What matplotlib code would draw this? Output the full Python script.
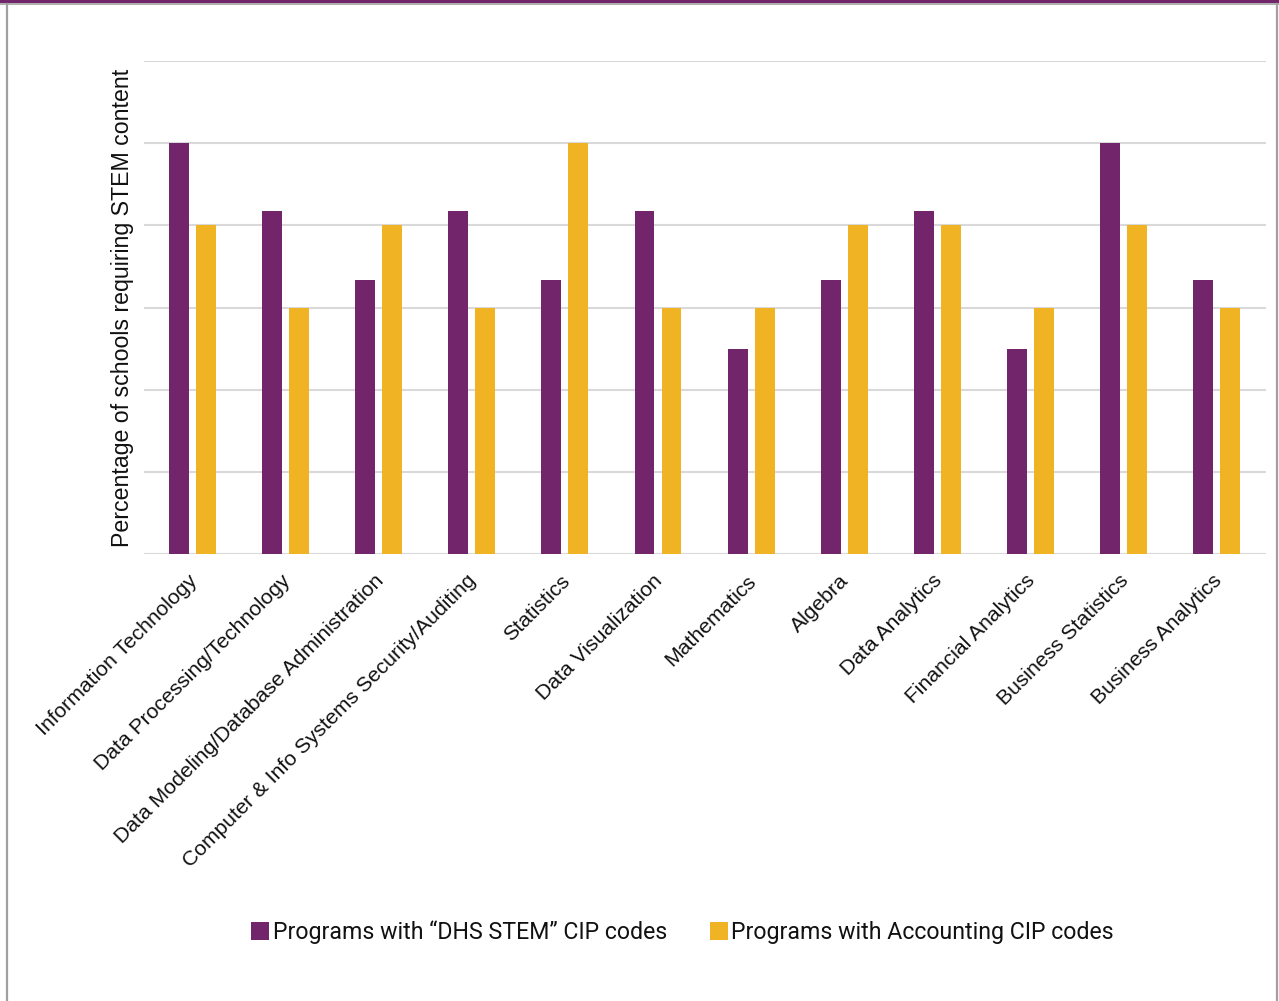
import matplotlib
matplotlib.use("Agg")
import matplotlib.pyplot as plt
from matplotlib.patches import Rectangle
from matplotlib.lines import Line2D
from matplotlib.transforms import ScaledTranslation
import numpy as np

categories = [
    "Information Technology",
    "Data Processing/Technology",
    "Data Modeling/Database Administration",
    "Computer & Info Systems Security/Auditing",
    "Statistics",
    "Data Visualization",
    "Mathematics",
    "Algebra",
    "Data Analytics",
    "Financial Analytics",
    "Business Statistics",
    "Business Analytics",
]
stem_pct = [50.0, 41.7, 33.3, 41.7, 33.3, 41.7, 25.0, 33.3, 41.7, 25.0, 50.0, 33.3]
accounting_pct = [40, 30, 40, 30, 50, 30, 30, 40, 40, 30, 40, 30]
series_names = ["Programs with \u201cDHS STEM\u201d CIP codes",
                "Programs with Accounting CIP codes"]

PURPLE = "#72256B"
GOLD = "#EFB324"
GRID = "#D9D9D9"

fig = plt.figure(figsize=(12.79, 10.01), dpi=100)
fig.patch.set_facecolor("white")

# frame around the slide
fig.add_artist(Rectangle((0, 1 - 3 / 1001), 1, 3 / 1001, transform=fig.transFigure,
                         facecolor=PURPLE, edgecolor="none"))
fig.add_artist(Line2D([0, 1], [1 - 4 / 1001] * 2, transform=fig.transFigure,
                      color="#A0A0A0", lw=1.2))
fig.add_artist(Line2D([6.5 / 1279] * 2, [0, 1 - 4 / 1001], transform=fig.transFigure,
                      color="#A0A0A0", lw=1.6))
fig.add_artist(Line2D([1277 / 1279] * 2, [0, 1 - 4 / 1001], transform=fig.transFigure,
                      color="#A0A0A0", lw=1.6))

ax = fig.add_axes([144 / 1279, 1 - 554 / 1001, (1266 - 144) / 1279, (554 - 61) / 1001])
x = np.arange(len(categories))
w = 0.214
off = 0.145
ax.bar(x - off, stem_pct, width=w, color=PURPLE, label=series_names[0], zorder=3)
ax.bar(x + off, accounting_pct, width=w, color=GOLD, label=series_names[1], zorder=3)

ax.set_xlim(-0.52, len(categories) - 0.47)
ax.set_ylim(0, 60)
ax.set_yticks(np.arange(0, 61, 10))
ax.yaxis.grid(True, color=GRID, lw=1.5, zorder=0)
ax.tick_params(axis="y", left=False, labelleft=False)
ax.tick_params(axis="x", bottom=False, pad=6)
for s in ["top", "right", "left", "bottom"]:
    ax.spines[s].set_visible(False)

ax.set_xticks(x)
labels = ax.set_xticklabels(categories, rotation=45, ha="right", rotation_mode="anchor",
                            fontfamily="Liberation Sans", fontsize=15.2, color="#111111")
shift = ScaledTranslation(-5 / 100, -4 / 100, fig.dpi_scale_trans)
for lab in labels:
    lab.set_transform(lab.get_transform() + shift)

ax.set_ylabel("Percentage of schools requiring STEM content",
              fontfamily="Liberation Sans", fontsize=16.7, color="#111111")
ax.yaxis.set_label_coords(-0.0085, 0.5)

leg = fig.legend(loc="center", bbox_to_anchor=(682.5 / 1279, 1 - 932 / 1001), ncol=2,
                 frameon=False, prop={"family": "Roboto", "size": 16.7},
                 handlelength=0.78, handleheight=0.78, handletextpad=0.15,
                 columnspacing=1.85)
for t in leg.get_texts():
    t.set_color("#111111")

fig.savefig("out.png", dpi=100, facecolor="white")
